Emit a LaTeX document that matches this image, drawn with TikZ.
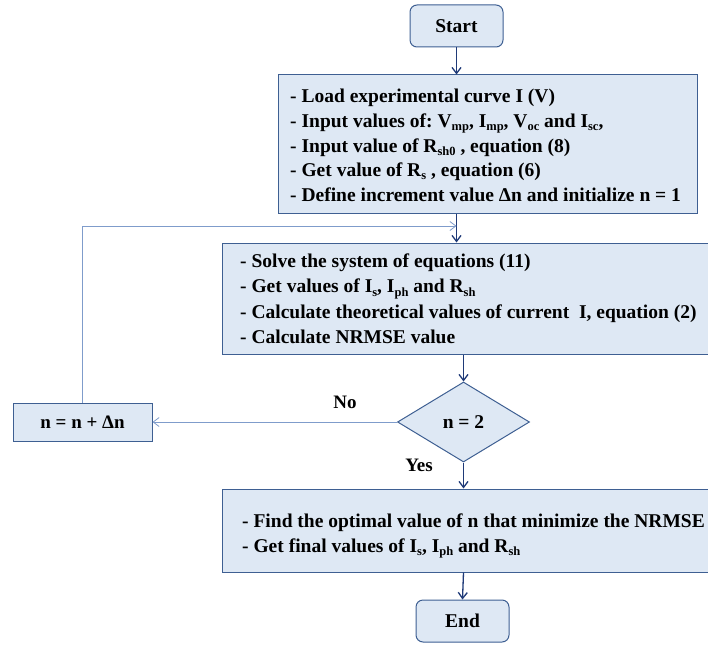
\documentclass[tikz,border=0pt]{standalone}
\usepackage{fontspec}
\setmainfont{Liberation Serif}
\frenchspacing
\usetikzlibrary{arrows.meta,shapes.geometric}
\newcommand{\sbs}[1]{\raisebox{-0.35ex}{\fontsize{12.5}{12.5}\selectfont #1}}
\definecolor{boxfill}{HTML}{DEE8F4}
\definecolor{boxline}{HTML}{3E5F92}
\definecolor{arr}{HTML}{1F3A78}
\definecolor{loopc}{HTML}{7F9CCB}
\tikzset{
  every node/.style={font=\fontsize{19.5}{24.7}\selectfont\bfseries},
  termbox/.style={draw=boxline, fill=boxfill, line width=1pt, rounded corners=7pt, minimum width=93pt, minimum height=42pt},
  plainbox/.style={draw=boxline, fill=boxfill, line width=1pt, inner sep=0pt},
  txt/.style={anchor=west, align=left, inner sep=0pt},
  decbox/.style={draw=boxline, fill=boxfill, line width=1pt, diamond, minimum width=132pt, minimum height=80pt, aspect=1.65, inner sep=0pt},
  flow/.style={draw=arr, line width=1.3pt, -{Straight Barb[length=6pt,width=9pt]}},
  loopflow/.style={draw=loopc, line width=0.8pt, -{Straight Barb[length=6pt,width=9pt]}},
  lbl/.style={font=\fontsize{19}{19}\selectfont\bfseries}
}
\begin{document}
\begin{tikzpicture}[x=1pt,y=-1pt]
\useasboundingbox (0,0) rectangle (708,644);
\node[termbox] (start) at (456.5,26) {Start};
% box 1
\node[plainbox, minimum width=419pt, minimum height=138pt] (box1) at (487.5,144) {};
\node[txt] (b1) at (290,145.5) {%
- Load experimental curve I (V)\\
- Input values of: V\sbs{mp}, I\sbs{mp}, V\sbs{oc} and I\sbs{sc},\\
- Input value of R\sbs{sh0} , equation (8)\\
- Get value of R\sbs{s} , equation (6)\\
- Define increment value Δn and initialize n = 1};
% box 2
\node[plainbox, minimum width=489pt, minimum height=111pt] (box2) at (466.5,298.5) {};
\node[txt, font=\fontsize{19.5}{25.5}\selectfont\bfseries] (b2) at (240,299) {%
- Solve the system of equations (11)\\
- Get values of I\sbs{s}, I\sbs{ph} and R\sbs{sh}\\
- Calculate theoretical values of current~ I, equation (2)\\
- Calculate NRMSE value};
% decision
\node[decbox] (dec) at (463.5,422) {n = 2};
% increment
\node[plainbox, minimum width=139pt, minimum height=38pt, font=\fontsize{19}{19}\selectfont\bfseries] (inc) at (82.5,422) {n = n + Δn};
% box 3
\node[plainbox, minimum width=489pt, minimum height=83pt] (box3) at (466.5,530.5) {};
\node[txt] (b3) at (242,536) {%
- Find the optimal value of n that minimize the NRMSE\\
- Get final values of I\sbs{s}, I\sbs{ph} and R\sbs{sh}};
\node[termbox] (end) at (462.5,621) {End};
% labels
\node[lbl] (no) at (345,402) {No};
\node[lbl] (yes) at (419,465) {Yes};
% connectors
\coordinate (merge) at (456.5,226);
\draw[flow] (start.south) -- (start.south |- box1.north);
\draw[flow] (start.south |- box1.south) -- (start.south |- box2.north);
\draw[flow] (dec.north |- box2.south) -- (dec.north);
\draw[flow] (dec.south) -- (dec.south |- box3.north);
\draw[flow] (dec.south |- box3.south) -- (end.north);
\draw[loopflow] (dec.west) -- (inc.east);
\draw[loopflow] (inc.north) |- (merge);
\end{tikzpicture}
\end{document}
